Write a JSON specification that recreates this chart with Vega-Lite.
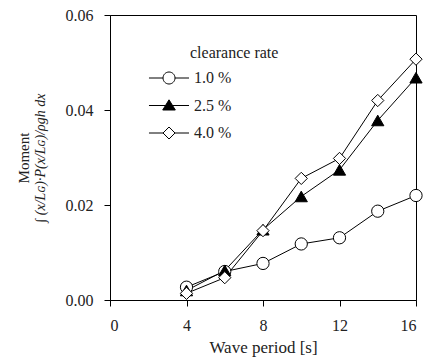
{
  "$schema": "https://vega.github.io/schema/vega-lite/v6.json",
  "width": 306,
  "height": 285,
  "autosize": "none",
  "padding": {"left": 110, "top": 15, "right": 11, "bottom": 61},
  "background": "white",
  "config": {
    "font": "Liberation Serif",
    "view": {"stroke": "black", "strokeWidth": 1},
    "axis": {"labelFont": "Liberation Serif", "titleFont": "Liberation Serif", "labelFontSize": 16, "titleFontSize": 15, "titleFontWeight": "normal", "labelColor": "#222", "titleColor": "#222", "domainColor": "black", "tickColor": "black", "grid": false, "tickSize": 6, "labelPadding": 11},
    "legend": {"labelFont": "Liberation Serif", "titleFont": "Liberation Serif"}
  },
  "datasets": {"moments": [
    {"period": 4, "moment": 0.0027, "rate": "1.0 %"},
    {"period": 6, "moment": 0.0060, "rate": "1.0 %"},
    {"period": 8, "moment": 0.0077, "rate": "1.0 %"},
    {"period": 10, "moment": 0.0118, "rate": "1.0 %"},
    {"period": 12, "moment": 0.0131, "rate": "1.0 %"},
    {"period": 14, "moment": 0.0187, "rate": "1.0 %"},
    {"period": 16, "moment": 0.0220, "rate": "1.0 %"},
    {"period": 4, "moment": 0.0020, "rate": "2.5 %"},
    {"period": 6, "moment": 0.0062, "rate": "2.5 %"},
    {"period": 8, "moment": 0.0148, "rate": "2.5 %"},
    {"period": 10, "moment": 0.0218, "rate": "2.5 %"},
    {"period": 12, "moment": 0.0274, "rate": "2.5 %"},
    {"period": 14, "moment": 0.0378, "rate": "2.5 %"},
    {"period": 16, "moment": 0.0468, "rate": "2.5 %"},
    {"period": 4, "moment": 0.0014, "rate": "4.0 %"},
    {"period": 6, "moment": 0.0047, "rate": "4.0 %"},
    {"period": 8, "moment": 0.0146, "rate": "4.0 %"},
    {"period": 10, "moment": 0.0256, "rate": "4.0 %"},
    {"period": 12, "moment": 0.0298, "rate": "4.0 %"},
    {"period": 14, "moment": 0.0420, "rate": "4.0 %"},
    {"period": 16, "moment": 0.0507, "rate": "4.0 %"}
  ]},
  "data": {"name": "moments"},
  "encoding": {
    "x": {"field": "period", "type": "quantitative", "scale": {"domain": [0, 16], "nice": false}, "axis": {"values": [0, 4, 8, 12, 16], "title": "Wave period [s]", "labelFont": "Liberation Serif", "titlePadding": 6, "titleFontSize": 17}}
  },
  "layer": [
    {
      "mark": {"type": "line", "color": "black", "strokeWidth": 1},
      "encoding": {
        "y": {"field": "moment", "type": "quantitative", "scale": {"domain": [0, 0.06], "nice": false}, "axis": {"orient": "left", "values": [0, 0.02, 0.04, 0.06], "format": ".2f", "labelFont": "Liberation Serif", "title": "∫ (x/Lɢ)·P(x/Lɢ)/ρgh dx", "titleFontStyle": "italic", "titleFontSize": 14, "titlePadding": 18}},
        "detail": {"field": "rate"}
      }
    },
    {
      "mark": {"type": "point", "filled": true, "stroke": "black", "strokeWidth": 1, "opacity": 1, "size": 150},
      "encoding": {
        "y": {"field": "moment", "type": "quantitative", "axis": {"orient": "left", "title": "Moment", "labels": false, "ticks": false, "domain": false, "titlePadding": 79}},
        "shape": {"field": "rate", "type": "nominal", "legend": null, "scale": {"domain": ["1.0 %", "2.5 %", "4.0 %"], "range": ["circle", "triangle-up", "diamond"]}},
        "fill": {"field": "rate", "type": "nominal", "legend": null, "scale": {"domain": ["1.0 %", "2.5 %", "4.0 %"], "range": ["white", "black", "white"]}}
      }
    },
    {
      "transform": [{"filter": "datum.period < 0"}],
      "mark": {"type": "point", "filled": true, "strokeWidth": 1, "opacity": 1, "size": 144},
      "encoding": {
        "y": {"field": "moment", "type": "quantitative", "axis": null},
        "shape": {"field": "rate", "type": "nominal", "scale": {"domain": ["1.0 %", "2.5 %", "4.0 %"], "range": ["M-8.17,0H-5.83M-5.83,0A1,1 0 1,1 -3.83,0A1,1 0 1,1 -5.83,0M-3.83,0H-1.5", "M-8.17,0H-1.5M-4.83,-0.95L-3.78,0.75L-5.88,0.75Z", "M-8.17,0H-5.83M-5.83,0L-4.83,-1L-3.83,0L-4.83,1ZM-3.83,0H-1.5"]},
          "legend": {"orient": "none", "legendX": 80, "legendY": 30, "padding": 0, "title": "clearance rate", "titleFontSize": 16, "titleFontWeight": "normal", "titleColor": "#222", "titlePadding": 9, "labelFont": "Liberation Serif", "labelFontSize": 16, "labelColor": "#222", "labelOffset": -12, "symbolSize": 144, "rowPadding": 11.5, "symbolStrokeWidth": 1}},
        "fill": {"field": "rate", "type": "nominal", "scale": {"domain": ["1.0 %", "2.5 %", "4.0 %"], "range": ["white", "black", "white"]},
          "legend": {"orient": "none", "legendX": 80, "legendY": 30, "padding": 0, "title": "clearance rate", "titleFontSize": 16, "titleFontWeight": "normal", "titleColor": "#222", "titlePadding": 9, "labelFont": "Liberation Serif", "labelFontSize": 16, "labelColor": "#222", "labelOffset": -12, "symbolSize": 144, "rowPadding": 11.5, "symbolStrokeWidth": 1}},
        "stroke": {"field": "rate", "type": "nominal", "scale": {"domain": ["1.0 %", "2.5 %", "4.0 %"], "range": ["black", "black", "black"]},
          "legend": {"orient": "none", "legendX": 80, "legendY": 30, "padding": 0, "title": "clearance rate", "titleFontSize": 16, "titleFontWeight": "normal", "titleColor": "#222", "titlePadding": 9, "labelFont": "Liberation Serif", "labelFontSize": 16, "labelColor": "#222", "labelOffset": -12, "symbolSize": 144, "rowPadding": 11.5, "symbolStrokeWidth": 1}}
      }
    }
  ],
  "resolve": {"axis": {"y": "independent"}, "scale": {"shape": "independent", "fill": "independent", "stroke": "independent"}}
}
